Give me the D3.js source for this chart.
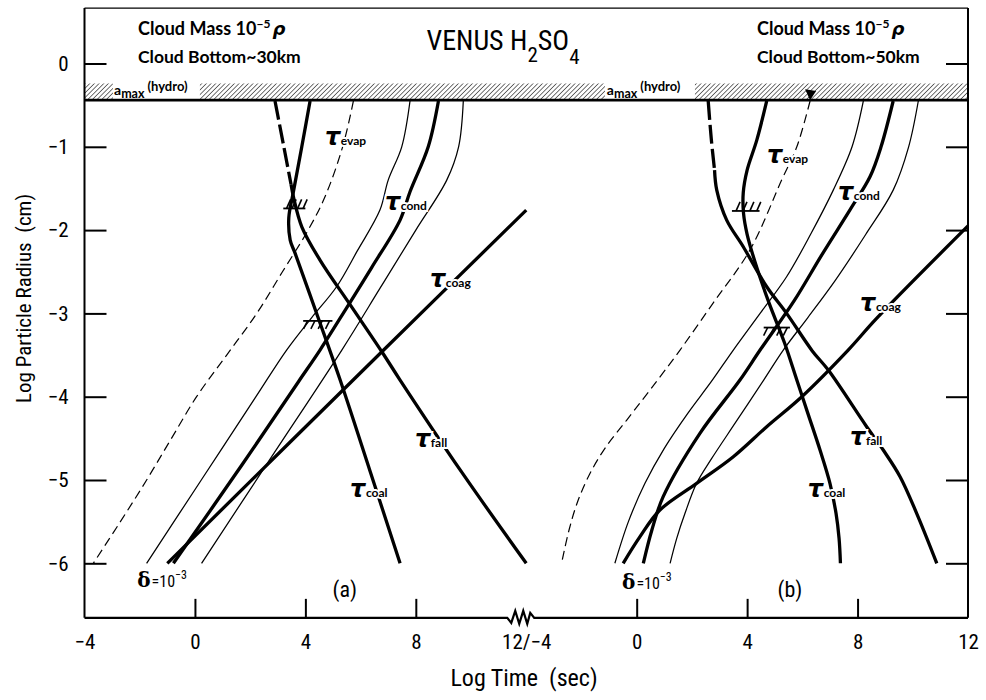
<!DOCTYPE html>
<html><head><meta charset="utf-8">
<script src="https://cdn.jsdelivr.net/npm/d3@7"></script>
<style>
body{margin:0;background:#fff;}
svg{display:block;}
</style></head><body>
<svg id="c" width="986" height="700"></svg>
<script>
// ---------------- data ----------------
const radiusTicks = [0, -1, -2, -3, -4, -5, -6];
const timeTicks = [-4, 0, 4, 8, 12];
const timeTickLabels = ["−4", "0", "4", "8", "12/−4", "0", "4", "8", "12"];
const aMaxHydro = -0.44;   // log radius of a_max (hydro)
const hatchTop = -0.24;

// panel (a): cloud bottom ~30 km   [log time, log radius]
const evapA = [[5.74,-0.45],[5.35,-1.0],[4.71,-1.6],[4.1,-2.0],[3.17,-2.5],[2.24,-3.0],[1.15,-3.5],[0.06,-4.0],[-0.85,-4.5],[-1.75,-5.0],[-2.7,-5.5],[-3.68,-6.0]];
const condThinLeftA = [[7.79,-0.45],[7.49,-1.0],[7.0,-1.4],[6.7,-1.76],[5.88,-2.25],[5.13,-2.68],[4.23,-3.05],[3.32,-3.44],[2.21,-4.0],[0.23,-5.0],[-1.75,-6.0]];
const condA = [[8.82,-0.45],[8.45,-1.0],[7.79,-1.54],[7.43,-1.88],[6.4,-2.45],[5.5,-2.93],[4.53,-3.44],[3.75,-3.82],[1.7,-4.82],[-0.78,-6.0]];
const condThinRightA = [[9.72,-0.45],[9.55,-1.0],[9.12,-1.4],[8.0,-2.0],[6.7,-2.7],[5.32,-3.44],[2.78,-4.72],[0.24,-6.0]];
const coagA = [[-1.0,-6.0],[6.77,-3.46],[12.0,-1.76]];
const coalA = [[4.17,-0.45],[3.87,-1.0],[3.56,-1.55],[3.40,-1.85],[3.45,-2.12],[3.63,-2.28],[4.45,-3.04],[5.26,-3.8],[6.35,-4.9],[7.43,-6.0]];
const fallDashA = [[2.9,-0.45],[3.22,-1.0],[3.48,-1.45]];
const fallA = [[3.48,-1.45],[3.58,-1.62],[3.87,-1.96],[4.53,-2.36],[5.65,-2.91],[6.77,-3.46],[7.43,-3.8],[9.65,-4.9],[12.0,-6.0]];

// panel (b): cloud bottom ~50 km
const evapB = [[6.28,-0.45],[5.8,-1.0],[5.25,-1.4],[4.1,-2.24],[2.78,-2.87],[1.57,-3.44],[0.48,-3.92],[-0.36,-4.28],[-1.15,-4.62],[-1.72,-4.94],[-2.15,-5.27],[-2.45,-5.6],[-2.72,-6.0]];
const condThinLeftB = [[8.21,-0.45],[7.8,-1.0],[7.12,-1.52],[6.3,-2.05],[5.43,-2.56],[4.47,-3.0],[3.5,-3.44],[2.7,-3.82],[1.85,-4.2],[1.0,-4.62],[0.3,-5.04],[-0.3,-5.5],[-0.79,-6.0]];
const condB = [[9.29,-0.45],[8.85,-1.0],[8.45,-1.36],[7.72,-1.76],[6.7,-2.3],[5.7,-2.85],[4.47,-3.44],[3.74,-3.8],[2.29,-4.44],[0.96,-5.2],[0.55,-5.6],[0.24,-6.0]];
const condThinRightB = [[10.2,-0.45],[9.85,-1.0],[9.29,-1.52],[8.3,-2.05],[7.2,-2.6],[6.2,-3.05],[5.31,-3.44],[4.6,-3.8],[3.6,-4.3],[2.7,-4.75],[2.17,-5.04],[1.75,-5.4],[1.45,-5.7],[1.21,-6.0]];
const coagB = [[12.0,-1.95],[8.69,-3.06],[7.66,-3.44],[5.98,-4.0],[4.71,-4.36],[3.5,-4.72],[2.17,-5.04],[0.84,-5.36],[0.12,-5.68],[-0.49,-6.0]];
const coalB = [[4.71,-0.45],[4.35,-0.92],[4.0,-1.28],[3.86,-1.55],[3.87,-1.8],[4.0,-2.05],[4.35,-2.45],[4.8,-2.88],[5.35,-3.35],[5.8,-3.8],[6.2,-4.2],[6.64,-4.64],[7.0,-5.04],[7.22,-5.4],[7.33,-5.7],[7.38,-6.0]];
const fallDashB = [[2.59,-0.45],[2.7,-0.9],[2.82,-1.28]];
const fallB = [[2.82,-1.28],[2.9,-1.52],[3.26,-1.88],[3.86,-2.2],[4.71,-2.68],[5.43,-3.0],[6.36,-3.45],[6.94,-3.68],[8.33,-4.36],[8.93,-4.64],[9.54,-4.96],[10.14,-5.4],[10.87,-6.0]];

// hatched markers [t0, t1, logr, hatch direction]
const markersA = [[3.2, 4.0, -1.74, "up"], [3.92, 4.98, -3.09, "down"]];
const markersB = [[3.45, 4.45, -1.77, "up"], [4.6, 5.55, -3.17, "down"]];

// curve labels [subscript, t, logr]
const labelsA = [["evap",4.71,-0.978],["cond",6.88,-1.759],["coag",8.51,-2.683],["fall",7.97,-4.604],["coal",5.62,-5.204]];
const labelsB = [["evap",4.72,-1.194],["cond",7.29,-1.639],["coag",8.09,-2.971],["fall",7.73,-4.58],["coal",6.2,-5.204]];

// ---------------- scales ----------------
const svg = d3.select("#c");
const xg = d3.scaleLinear().domain([0, 32]).range([84.5, 968]);
const xa = d3.scaleLinear().domain([-4, 12]).range([xg(0), xg(16)]);
const xb = d3.scaleLinear().domain([-4, 12]).range([xg(16), xg(32)]);
const y = d3.scaleLinear().domain([0, -6]).range([63.5, 563.3]);
const yTop = y(0.665), yBot = y(-6.655);

const condFont = '"Liberation Sans Narrow","Roboto Condensed","DejaVu Sans Condensed","DejaVu Sans",sans-serif';
const roundFont = 'Lato,"Noto Sans",sans-serif';

// hatch pattern
const defs = svg.append("defs");
defs.append("pattern").attr("id","hatch").attr("patternUnits","userSpaceOnUse")
  .attr("width",3.3).attr("height",3.3).attr("patternTransform","rotate(45)")
  .append("line").attr("x1",0).attr("y1",0).attr("x2",0).attr("y2",3.3)
  .attr("stroke","#000").attr("stroke-width",1.1);

// ---------------- hatched a_max band ----------------
const bandSegs = [[xa(-4), xa(-2.97)], [xa(0.18), xb(-1.15)], [xb(2.11), xb(12)]];
svg.append("g").selectAll("rect").data(bandSegs).join("rect")
  .attr("x", d => d[0]).attr("width", d => d[1] - d[0])
  .attr("y", y(hatchTop)).attr("height", y(aMaxHydro) - y(hatchTop))
  .attr("fill", "url(#hatch)");
svg.append("line").attr("x1", xa(-4)).attr("x2", xb(12))
  .attr("y1", y(aMaxHydro)).attr("y2", y(aMaxHydro))
  .attr("stroke", "#000").attr("stroke-width", 2.6);

function amaxLabel(xpos) {
  const t = svg.append("text").attr("x", xpos).attr("y", y(aMaxHydro) - 5.5)
    .attr("font-family", roundFont).attr("font-weight", 700).attr("font-size", 14);
  t.append("tspan").text("a");
  t.append("tspan").attr("font-size", 12.5).attr("dy", 3.5).text("max");
  t.append("tspan").attr("font-size", 13).attr("dx", 3).attr("dy", -7.5).attr("font-weight", 700).text("(hydro)");
}
amaxLabel(xa(-2.93));
amaxLabel(xb(-1.08));

// ---------------- curves ----------------
const styles = {
  thick: {w: 3.3, dash: null},
  thin: {w: 1.25, dash: null},
  thinDash: {w: 1.2, dash: "9,5"},
  thickDash: {w: 3.3, dash: "19,5"}
};
const panels = [
  {x: xa, curves: [[evapA,"thinDash"],[condThinLeftA,"thin"],[condA,"thick"],[condThinRightA,"thin"],[coagA,"thick"],[coalA,"thick"],[fallDashA,"thickDash"],[fallA,"thick"]], markers: markersA, labels: labelsA, tag: "(a)", tagT: 5.43, deltaT: -2.09, deltaR: -6.285},
  {x: xb, curves: [[evapB,"thinDash"],[condThinLeftB,"thin"],[condB,"thick"],[condThinRightB,"thin"],[coagB,"thick"],[coalB,"thick"],[fallDashB,"thickDash"],[fallB,"thick"]], markers: markersB, labels: labelsB, tag: "(b)", tagT: 5.55, deltaT: -0.53, deltaR: -6.309}
];

panels.forEach(p => {
  const line = d3.line().x(d => p.x(d[0])).y(d => y(d[1])).curve(d3.curveCatmullRom.alpha(0.5));
  const g = svg.append("g");
  p.curves.forEach(([data, st]) => {
    g.append("path").attr("d", line(data)).attr("fill", "none").attr("stroke", "#000")
      .attr("stroke-width", styles[st].w).attr("stroke-dasharray", styles[st].dash)
      .attr("stroke-linejoin", "round");
  });
  // markers
  p.markers.forEach(([t0, t1, r, dir]) => {
    const x0 = p.x(t0), x1 = p.x(t1), yy = y(r);
    g.append("line").attr("x1", x0).attr("x2", x1).attr("y1", yy).attr("y2", yy)
      .attr("stroke", "#000").attr("stroke-width", 1.8);
    const n = 4;
    for (let i = 0; i < n; i++) {
      const xx = x0 + (x1 - x0) * (i + 0.6) / n;
      const dx = dir === "up" ? 4 : -4, dy = dir === "up" ? -9 : 8;
      g.append("line").attr("x1", xx).attr("y1", yy).attr("x2", xx + dx).attr("y2", yy + dy)
        .attr("stroke", "#000").attr("stroke-width", 1.6);
    }
  });
  // tau labels with white halo
  p.labels.forEach(([sub, t, r]) => {
    const tx = g.append("text").attr("x", p.x(t)).attr("y", y(r))
      .attr("stroke", "#fff").attr("stroke-width", 4).attr("paint-order", "stroke")
      .attr("fill", "#000");
    tx.append("tspan").attr("font-family", '"DejaVu Sans",sans-serif').attr("font-weight", 700)
      .attr("font-style", "italic").attr("font-size", 24).text("τ");
    tx.append("tspan").attr("font-family", roundFont).attr("font-weight", 700)
      .attr("font-size", 12).attr("dx", 0.5).text(sub);
  });
  // delta label
  const dl = g.append("text").attr("x", p.x(p.deltaT)).attr("y", y(p.deltaR)).attr("fill", "#000");
  dl.append("tspan").attr("font-family", '"DejaVu Serif",serif').attr("font-weight", 700).attr("font-size", 20).text("δ");
  dl.append("tspan").attr("font-family", condFont).attr("font-size", 16).attr("dx", 1).text("=10");
  dl.append("tspan").attr("font-family", condFont).attr("font-size", 12).attr("dy", -8).text("−3");
  // panel tag
  g.append("text").attr("x", p.x(p.tagT)).attr("y", y(-6.405))
    .attr("text-anchor", "middle").attr("font-family", condFont).attr("font-size", 22).text(p.tag);
});

// small mark in the band of panel b
svg.append("path")
  .attr("d", `M${xb(6.28)},${y(-0.44)} L${xb(6.1)},${y(-0.31)} L${xb(6.5)},${y(-0.33)} Z`)
  .attr("fill", "#000");

// ---------------- frame ----------------
const frame = svg.append("g").attr("stroke", "#000").attr("fill", "none");
frame.append("line").attr("x1", xg(0)).attr("x2", xg(0)).attr("y1", yTop).attr("y2", yBot).attr("stroke-width", 2);
frame.append("line").attr("x1", xg(32)).attr("x2", xg(32)).attr("y1", yTop).attr("y2", yBot).attr("stroke-width", 2);
frame.append("line").attr("x1", xg(0)).attr("x2", xg(32)).attr("y1", yTop).attr("y2", yTop).attr("stroke-width", 1.2);
const xm = xg(16);
frame.append("path").attr("stroke-width", 2.2).attr("stroke-linejoin", "miter")
  .attr("d", `M${xg(0)},${yBot} L${xm-19},${yBot} L${xm-15},${yBot+5} L${xm-11},${yBot-7} L${xm-7},${yBot+6} L${xm-3},${yBot-7} L${xm+1},${yBot+6} L${xm+4},${yBot-5} L${xm+8},${yBot} L${xg(32)},${yBot}`);

// ---------------- axes ----------------
const xTickVals = timeTicks.map(t => t + 4).concat(timeTicks.slice(1).map(t => t + 20));
const gx = svg.append("g").attr("transform", `translate(0,${yBot})`)
  .call(d3.axisBottom(xg).tickValues(xTickVals).tickFormat((d, i) => timeTickLabels[i])
    .tickSizeInner(-19).tickSizeOuter(0).tickPadding(16));
gx.select(".domain").remove();
gx.selectAll(".tick").filter(d => d % 16 === 0).select("line").remove();
gx.selectAll(".tick line").attr("stroke-width", 2);
gx.attr("font-family", condFont).attr("font-size", 21);
gx.selectAll("text").attr("fill", "#000");

const gy = svg.append("g").attr("transform", `translate(${xg(0)},0)`)
  .call(d3.axisLeft(y).tickValues(radiusTicks).tickFormat(d3.format("d")).tickSizeInner(-22).tickSizeOuter(0).tickPadding(16));
gy.select(".domain").remove();
gy.selectAll(".tick line").attr("stroke-width", 2);
gy.attr("font-family", condFont).attr("font-size", 21);
gy.selectAll("text").attr("fill", "#000");

const gyr = svg.append("g").attr("transform", `translate(${xg(32)},0)`)
  .call(d3.axisRight(y).tickValues(radiusTicks).tickSizeInner(-22).tickSizeOuter(0).tickFormat(""));
gyr.select(".domain").remove();
gyr.selectAll(".tick line").attr("stroke-width", 2);

// axis titles
svg.append("text").attr("x", 524).attr("y", 686).attr("text-anchor", "middle")
  .attr("font-family", condFont).attr("font-size", 24).attr("xml:space", "preserve").text("Log Time  (sec)");
svg.append("text").attr("transform", `translate(31,${y(-2.82)}) rotate(-90)`).attr("text-anchor", "middle")
  .attr("font-family", condFont).attr("font-size", 21).attr("xml:space", "preserve").text("Log Particle Radius  (cm)");

// ---------------- title & notes ----------------
const title = svg.append("text").attr("x", 503).attr("y", 50).attr("text-anchor", "middle")
  .attr("font-family", condFont).attr("font-size", 28);
title.append("tspan").text("VENUS H");
title.append("tspan").attr("font-size", 21).attr("dy", 12).text("2");
title.append("tspan").attr("dy", -12).text("SO");
title.append("tspan").attr("font-size", 21).attr("dy", 14).text("4");

function note(xpos, km) {
  const t1 = svg.append("text").attr("x", xpos).attr("y", 35)
    .attr("font-family", roundFont).attr("font-weight", 700).attr("font-size", 18);
  t1.append("tspan").text("Cloud Mass 10");
  t1.append("tspan").attr("font-size", 12).attr("dy", -7).text("−5");
  t1.append("tspan").attr("dy", 7).attr("font-family", '"DejaVu Sans",sans-serif').attr("font-style", "italic").attr("dx", 2).text("ρ");
  svg.append("text").attr("x", xpos).attr("y", 63)
    .attr("font-family", roundFont).attr("font-weight", 700).attr("font-size", 17.5)
    .text("Cloud Bottom~" + km + "km");
}
note(138, 30);
note(757, 50);
</script>
</body></html>
